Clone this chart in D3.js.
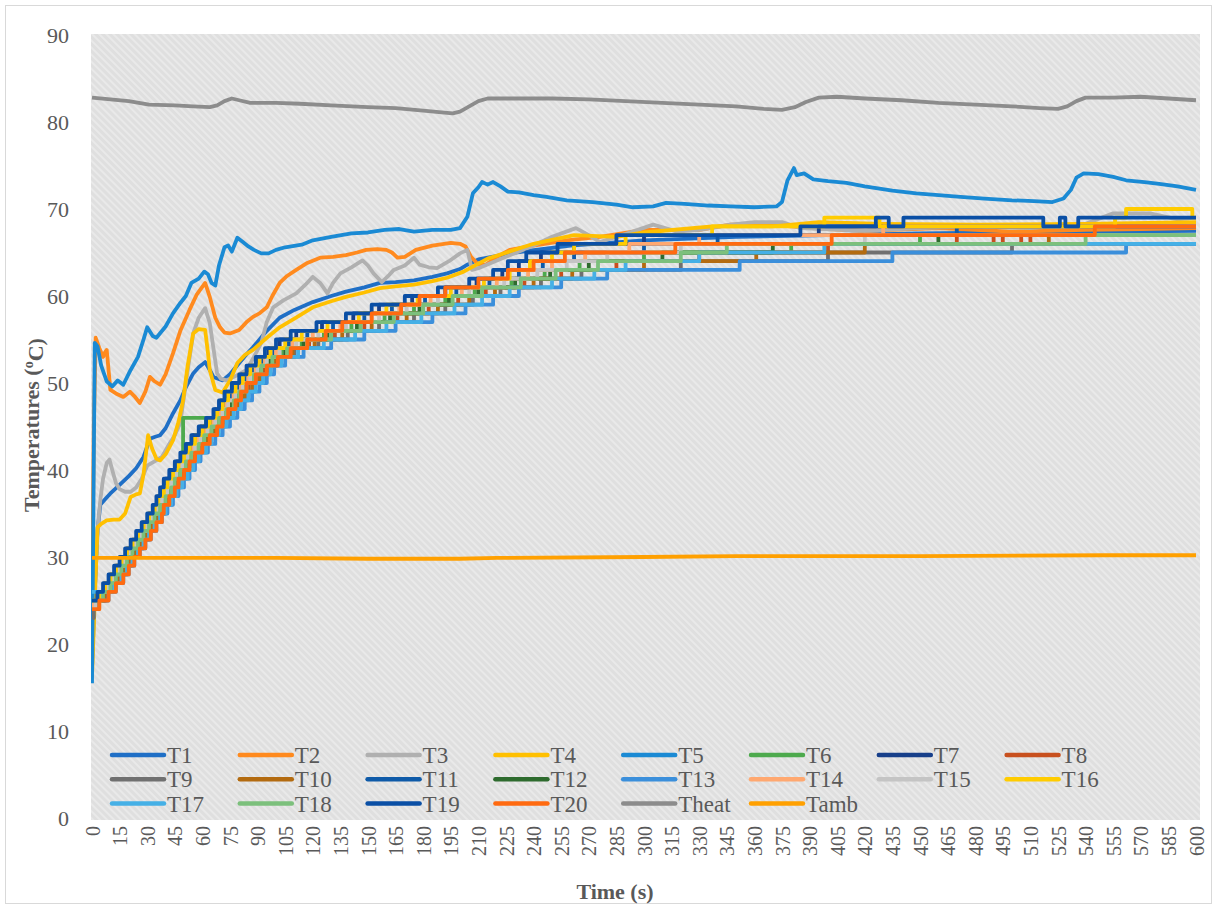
<!DOCTYPE html>
<html>
<head>
<meta charset="utf-8">
<script src="https://cdn.jsdelivr.net/npm/d3@7"></script>
<style>
  body { margin: 0; background: #fff; }
  svg { display: block; }
</style>
</head>
<body>
<svg id="chart" width="1217" height="909"></svg>
<script>
// ---- Axis ticks ----
const xTicks = d3.range(0, 601, 15);
const yTicks = [0, 10, 20, 30, 40, 50, 60, 70, 80, 90];

// ---- Series names and colours ----
const seriesNames = ["T1","T2","T3","T4","T5","T6","T7","T8","T9","T10",
  "T11","T12","T13","T14","T15","T16","T17","T18","T19","T20","Theat","Tamb"];
const seriesColors = ["#1f6fc6","#ff8a1e","#b0b0b0","#ffc000","#1a8ad4","#4daa4d",
  "#173f8a","#c8501e","#707070","#b36b10","#0e5aa8","#2e6b2e","#3b8fdb","#ffa870",
  "#c4c4c4","#ffcc00","#45b0e6","#7cc07c","#0a4fa5","#ff6a10","#8c8c8c","#ffa000"];
// sensors logged with 1 °C resolution are drawn as steps
const steppedSeries = ["T6","T7","T8","T9","T10","T11","T12","T13","T14","T15",
  "T16","T17","T18","T19","T20"];

// ---- Readings [time (s), temperature (°C)] ----
const T1 = [[0,17.2],[1.5,26],[3,33],[4.5,36],[7,36.6],[10,37.3],[15,38.3],[20,39.3],[24,40.2],[28,41.5],[31.5,43.6],[34,43.8],[37,44],[40,44.8],[44,46.5],[48,48],[51,49.5],[55,51.1],[58,51.8],[61.5,52.4],[64,51.5],[66,50.7],[71,50.3],[75,51],[80,52.3],[84,53.3],[87.5,54.1],[95,56],[102,57.5],[110,58.4],[120,59.3],[130,60],[138,60.5],[148,61],[156.5,61.5],[165,61.6],[175,61.8],[185,62.2],[193,62.6],[200,63.1],[204,63.6],[210,64.2],[230,65],[260,65.8],[300,66.4],[350,66.8],[400,67],[450,67.2],[500,67.3],[550,67.4],[600,67.5]];
const T2 = [[0,24],[1,45],[2,55.2],[4,54],[6,53],[7,53.5],[8,53.8],[10,49.2],[13,48.8],[17,48.4],[20.6,49],[23,48.5],[26,47.7],[29,49],[31.5,50.7],[34,50.2],[37,49.8],[40,51],[44,53.4],[48,56],[53,58.4],[57,60.2],[61.5,61.5],[64,59.9],[67,57.5],[69.6,56.4],[72,55.8],[75,55.7],[80,56.1],[84,57],[87.5,57.6],[91,58],[95,58.7],[98,60],[102,61.5],[106,62.3],[111,63],[117,63.8],[124,64.4],[131,64.5],[138,64.7],[144,65],[149,65.3],[155,65.4],[160,65.3],[163,65],[166,64.4],[170,64.5],[176,65.3],[185,65.8],[195,66.1],[200,66],[203,65.7],[206,64.5],[210,63.6],[214,63.6],[220,64.5],[227,65.3],[240,65.8],[258,66.4],[276,66.8],[300,67.6],[330,67.6],[347,68.2],[365,68.2],[380,68],[400,67.7],[420,67.5],[460,67.8],[500,67.4],[540,67.6],[570,67.7],[600,67.8]];
const T3 = [[0,23],[1.5,28],[3,33],[4.5,36.5],[6,39],[8,40.8],[9.5,41.2],[11,40],[13,38.5],[15,37.8],[18,37.5],[21,37.5],[24,38],[27,39],[30,40.5],[34,41],[38,41.5],[42,43],[45,44],[48,45.4],[51,50],[55,55.7],[58,57.5],[61.5,58.6],[64,56.9],[66,54],[68,51.1],[70,50.5],[73,50.3],[78,50.8],[84,51.5],[88,53],[92,54.6],[95,57],[98.5,58.7],[104,59.5],[111,60.3],[116,61.3],[120,62.2],[124,61.5],[128,60.3],[131,61.5],[135,62.6],[141,63.3],[147,64.1],[150,63.5],[153,62.6],[157.5,61.6],[161,62.3],[164,63],[170,63.5],[175,64.4],[178,63.6],[183,63.3],[187.5,63.2],[194,64],[200,64.9],[204,65.3],[206.5,63],[210,63.2],[225,64.5],[240,65.8],[250,66.8],[263,67.8],[270,67],[276,66.2],[291,67.2],[305,68.2],[318,67.4],[330,67.6],[347,68.2],[360,68.5],[375,68.5],[385,67.8],[420,67.5],[450,67.8],[480,68],[510,67.8],[540,68.3],[555,69.5],[575,69.5],[590,68.8],[600,69]];
const T4 = [[0,16.2],[1.5,25],[3,33.4],[5,33.8],[8,34.2],[12,34.3],[15,34.3],[18,35],[21,36.9],[24,37.2],[26,37.3],[28,39.5],[30.5,44],[32.6,42.5],[35,41.3],[37,41.1],[40,41.8],[44,43.4],[47,45.5],[49.5,48],[52,52],[55,55.7],[58,56.2],[61.5,56.1],[63,53.5],[64,51.5],[67,49.2],[71,48.9],[75,50.3],[79,52.3],[83,53.2],[87.5,53.8],[95,55.2],[102,56.4],[110,57.4],[120,58.7],[130,59.4],[138,59.9],[148,60.4],[156.5,60.9],[165,61.1],[175,61.3],[185,61.7],[193,62.1],[202,62.8],[215,64.3],[240,66],[262,67],[285,66.8],[300,67.3],[337,68],[370,68],[395,68.5],[430,68.3],[480,68.2],[540,68.3],[600,68.5]];
const T5 = [[0,15.5],[1.5,54.6],[3,54.2],[5,52],[8,50.2],[11,49.6],[14,50.3],[17,49.8],[21,51.5],[25,53],[28,55],[30,56.4],[33,55.4],[35,55.2],[40,56.5],[44,58],[48,59.2],[51,60],[54,61.5],[58,62],[61,62.8],[63,62.5],[65,61.5],[67,61.2],[69,63.5],[72,65.6],[74,65.8],[76,65.1],[79,66.7],[82,66.2],[85,65.7],[88,65.3],[92,64.9],[96,64.9],[100,65.3],[105,65.6],[114,65.9],[120,66.4],[130,66.8],[141,67.2],[150,67.3],[159,67.6],[167,67.7],[175,67.4],[185,67.6],[195,67.6],[200,67.8],[204,69.1],[207,71.8],[210,72.5],[212,73.1],[215,72.8],[218,73.1],[222,72.6],[226,72],[232,71.9],[240,71.6],[247,71.4],[258,71],[272,70.8],[285,70.5],[294,70.2],[305,70.3],[312,70.7],[322,70.6],[335,70.4],[347,70.3],[360,70.2],[372,70.3],[375,70.8],[378,73.3],[381.5,74.7],[383,73.9],[387,74.1],[392,73.4],[400,73.2],[410,73],[420,72.6],[435,72.1],[448,71.8],[460,71.6],[472,71.4],[485,71.2],[500,71],[512,70.9],[522,70.8],[528,71.2],[532,72.2],[535,73.6],[539,74.1],[547,74],[555,73.7],[562,73.3],[572,73.1],[580,72.9],[590,72.6],[600,72.2]];
const T6 = [[0,25],[6,26],[9,27],[13,28],[16,29],[19,30],[22,31],[25,32],[28,33],[31,34],[34,35],[37,36],[39,37],[42,38],[44,39],[47,40],[48,41],[49.5,46],[62,44],[64,45],[68,46],[72,47],[75,48],[79,49],[83,50],[87,51],[91,52],[96,53],[103,54],[114,55],[126,56],[141,57],[159,58],[175,59],[192,60],[208,61],[228,62],[246,63],[265,64],[300,65],[380,66],[450,67],[600,67]];
const T7 = [[0,25],[3,26],[7,27],[10,28],[13,29],[16,30],[19,31],[22,32],[25,33],[28,34],[31,35],[34,36],[36,37],[38,38],[40,39],[43,40],[46,41],[49,42],[52,43],[55,44],[59,45],[63,46],[67,47],[70,48],[73,49],[77,50],[81,51],[85,52],[90,53],[96,54],[102,55],[111,56],[125,57],[142,58],[156,59],[174,60],[192,61],[209,62],[223,63],[232,64],[244,65],[262,66],[300,67],[395,68],[600,68]];
const T8 = [[0,24],[2,25],[7,26],[10,27],[14,28],[17,29],[20,30],[23,31],[26,32],[29,33],[32,34],[35,35],[38,36],[40,37],[43,38],[46,39],[49,40],[52,41],[55,42],[58,43],[62,44],[66,45],[70,46],[74,47],[77,48],[81,49],[85,50],[89,51],[93,52],[99,53],[107,54],[118,55],[132,56],[148,57],[166,58],[183,59],[199,60],[214,61],[235,62],[255,63],[285,64],[330,65],[400,66],[470,67],[490,66],[495,67],[505,66],[510,67],[600,67]];
const T9 = [[0,23],[1,24],[3,25],[8,26],[11,27],[15,28],[19,29],[22,30],[25,31],[28,32],[31,33],[34,34],[37,35],[40,36],[43,37],[45,38],[48,39],[51,40],[54,41],[57,42],[60,43],[64,44],[68,45],[72,46],[76,47],[80,48],[84,49],[88,50],[92,51],[96,52],[101,53],[110,54],[123,55],[139,56],[156,57],[175,58],[192,59],[207,60],[222,61],[244,62],[266,63],[320,64],[400,65],[500,66],[600,66]];
const T10 = [[0,24],[3,25],[7,26],[11,27],[15,28],[18,29],[21,30],[24,31],[27,32],[30,33],[33,34],[36,35],[39,36],[41,37],[44,38],[47,39],[50,40],[53,41],[56,42],[59,43],[63,44],[67,45],[71,46],[75,47],[79,48],[83,49],[87,50],[91,51],[95,52],[100,53],[109,54],[121,55],[136,56],[152,57],[171,58],[188,59],[205,60],[219,61],[240,62],[261,63],[300,64],[361,65],[420,66],[520,67],[600,67]];
const T11 = [[0,25],[4,26],[8,27],[11,28],[14,29],[17,30],[20,31],[23,32],[26,33],[29,34],[32,35],[35,36],[37,37],[39,38],[41,39],[44,40],[47,41],[50,42],[54,43],[57,44],[61,45],[65,46],[69,47],[72,48],[75,49],[79,50],[83,51],[87,52],[93,53],[99,54],[107,55],[117,56],[131,57],[148,58],[163,59],[181,60],[198,61],[216,62],[232,63],[245,64],[262,65],[300,66],[340,67],[470,68],[600,68]];
const T12 = [[0,24],[2,25],[6,26],[10,27],[13,28],[16,29],[19,30],[22,31],[25,32],[28,33],[31,34],[34,35],[37,36],[40,37],[42,38],[45,39],[48,40],[51,41],[54,42],[57,43],[61,44],[65,45],[69,46],[73,47],[76,48],[80,49],[84,50],[88,51],[92,52],[97,53],[105,54],[115,55],[128,56],[144,57],[162,58],[178,59],[194,60],[210,61],[230,62],[249,63],[270,64],[310,65],[370,66],[460,67],[600,67]];
const T13 = [[0,25],[9,26],[13,27],[17,28],[20,29],[23,30],[26,31],[29,32],[32,33],[35,34],[38,35],[41,36],[44,37],[47,38],[50,39],[53,40],[56,41],[59,42],[63,43],[67,44],[71,45],[75,46],[79,47],[83,48],[87,49],[91,50],[95,51],[99,52],[105,53],[115,54],[130,55],[148,56],[165,57],[185,58],[203,59],[218,60],[232,61],[255,62],[280,63],[352,64],[435,65],[562,66],[600,66]];
const T14 = [[0,24],[1,25],[5,26],[8,27],[11,28],[14,29],[17,30],[20,31],[23,32],[26,33],[29,34],[32,35],[35,36],[38,37],[40,38],[42,39],[45,40],[48,41],[51,42],[55,43],[58,44],[62,45],[66,46],[70,47],[73,48],[77,49],[81,50],[85,51],[89,52],[94,53],[100,54],[109,55],[120,56],[135,57],[152,58],[167,59],[184,60],[201,61],[220,62],[237,63],[250,64],[268,65],[292,66],[330,67],[430,68],[600,68]];
const T15 = [[0,24],[2,25],[5,26],[9,27],[12,28],[15,29],[18,30],[21,31],[24,32],[27,33],[30,34],[33,35],[36,36],[38,37],[41,38],[43,39],[46,40],[49,41],[52,42],[56,43],[59,44],[63,45],[67,46],[71,47],[74,48],[78,49],[82,50],[86,51],[90,52],[95,53],[102,54],[111,55],[123,56],[138,57],[156,58],[171,59],[188,60],[205,61],[224,62],[242,63],[258,64],[280,65],[320,66],[420,67],[600,67]];
const T16 = [[0,25],[4,26],[7,27],[10,28],[13,29],[16,30],[19,31],[22,32],[25,33],[28,34],[31,35],[34,36],[36,37],[39,38],[41,39],[44,40],[47,41],[50,42],[53,43],[56,44],[60,45],[64,46],[68,47],[71,48],[74,49],[78,50],[82,51],[86,52],[91,53],[97,54],[105,55],[114,56],[128,57],[145,58],[160,59],[177,60],[195,61],[213,62],[227,63],[238,64],[250,65],[262,66],[290,67],[337,68],[398,69],[428,68],[556,69],[562,70],[598,69],[600,69]];
const T17 = [[0,26],[12,27],[16,28],[19,29],[22,30],[25,31],[28,32],[31,33],[34,34],[37,35],[40,36],[43,37],[46,38],[49,39],[52,40],[55,41],[58,42],[62,43],[65,44],[69,45],[73,46],[77,47],[81,48],[85,49],[89,50],[93,51],[97,52],[103,53],[112,54],[126,55],[143,56],[160,57],[179,58],[197,59],[212,60],[227,61],[250,62],[273,63],[290,64],[330,65],[398,66],[600,66]];
const T18 = [[0,25],[6,26],[10,27],[13,28],[16,29],[19,30],[22,31],[25,32],[28,33],[31,34],[34,35],[37,36],[40,37],[43,38],[45,39],[48,40],[51,41],[54,42],[58,43],[61,44],[65,45],[69,46],[73,47],[77,48],[80,49],[84,50],[88,51],[92,52],[98,53],[106,54],[117,55],[130,56],[146,57],[164,58],[180,59],[196,60],[212,61],[233,62],[252,63],[275,64],[320,65],[345,66],[540,67],[600,67]];
const T19 = [[0,25],[3,26],[6,27],[9,28],[12,29],[15,30],[18,31],[21,32],[24,33],[27,34],[30,35],[33,36],[35,37],[37,38],[39,39],[42,40],[45,41],[48,42],[51,43],[54,44],[58,45],[62,46],[66,47],[69,48],[72,49],[76,50],[80,51],[84,52],[89,53],[94,54],[100,55],[108,56],[122,57],[138,58],[152,59],[170,60],[188,61],[205,62],[218,63],[226,64],[236,65],[253,66],[285,67],[385,68],[426,69],[433,68],[441,69],[517,68],[526,69],[529,68],[536,69],[600,69]];
const T20 = [[0,24],[4,25],[9,26],[13,27],[17,28],[20,29],[23,30],[26,31],[29,32],[32,33],[35,34],[38,35],[39,36],[42,37],[45,38],[47,39],[50,40],[53,41],[56,42],[60,43],[64,44],[68,45],[71,46],[74,47],[78,48],[81,49],[84,50],[89,51],[95,52],[101,53],[108,54],[117,55],[127,56],[136,57],[152,58],[168,59],[178,60],[192,61],[210,62],[226,63],[240,64],[257,65],[317,66],[402,67],[545,68],[600,68]];
const Theat = [[0,82.8],[10,82.6],[20,82.4],[31,82],[45,81.9],[55,81.8],[64,81.7],[68,81.9],[72,82.4],[76,82.7],[80,82.5],[86,82.2],[100,82.2],[113,82.1],[130,81.9],[150,81.7],[165,81.6],[180,81.3],[190,81.1],[196,81],[200,81.2],[205,81.8],[210,82.4],[215,82.7],[230,82.7],[250,82.7],[270,82.6],[290,82.4],[310,82.2],[330,82],[350,81.8],[365,81.5],[375,81.4],[382,81.7],[388,82.3],[395,82.8],[405,82.9],[420,82.7],[440,82.5],[460,82.2],[480,82],[500,81.8],[515,81.6],[525,81.5],[530,81.8],[535,82.4],[540,82.8],[555,82.8],[570,82.9],[585,82.7],[600,82.5]];
const Tamb = [[0,29.9],[50,29.9],[100,29.9],[150,29.8],[200,29.8],[220,29.9],[300,30],[350,30.1],[450,30.1],[550,30.2],[600,30.2]];

const seriesData = [T1,T2,T3,T4,T5,T6,T7,T8,T9,T10,T11,T12,T13,T14,T15,T16,T17,T18,T19,T20,Theat,Tamb];

// ---- Layout ----
const W = 1217, H = 909;
const plot = { left: 91, top: 34, right: 1200, bottom: 820 };
const x = d3.scaleLinear().domain([0, 600]).range([92, 1196]);
const y = d3.scaleLinear().domain([0, 90]).range([818, 35]);
const textColor = "#595959";
const serif = "'Liberation Serif', 'Times New Roman', serif";

const svg = d3.select("#chart");
const defs = svg.append("defs");

// diagonal textured fill of the plot area
const pat = defs.append("pattern")
  .attr("id", "texture").attr("patternUnits", "userSpaceOnUse")
  .attr("width", 5).attr("height", 5)
  .attr("patternTransform", "rotate(-45)");
pat.append("rect").attr("width", 5).attr("height", 5).attr("fill", "#dfdfdf");
pat.append("rect").attr("x", 0).attr("width", 2).attr("height", 5).attr("fill", "#e9e9e9");

defs.append("clipPath").attr("id", "plotClip")
  .append("rect")
  .attr("x", plot.left).attr("y", plot.top)
  .attr("width", plot.right - plot.left).attr("height", plot.bottom - plot.top);

// chart frame
svg.append("rect")
  .attr("x", 5.5).attr("y", 5.5).attr("width", W - 11).attr("height", H - 11)
  .attr("fill", "#fff").attr("stroke", "#d9d9d9").attr("stroke-width", 1);

svg.append("rect")
  .attr("x", plot.left).attr("y", plot.top)
  .attr("width", plot.right - plot.left).attr("height", plot.bottom - plot.top)
  .attr("fill", "url(#texture)");

// ---- Axes ----
const yAxis = svg.append("g")
  .attr("transform", "translate(92,0)")
  .call(d3.axisLeft(y).tickValues(yTicks).tickSize(0).tickPadding(23));
yAxis.select(".domain").remove();
yAxis.selectAll("text")
  .attr("fill", textColor).style("font-family", serif).style("font-size", "22px");

const xAxis = svg.append("g")
  .attr("transform", "translate(0,818)")
  .call(d3.axisBottom(x).tickValues(xTicks).tickSize(0));
xAxis.select(".domain").remove();
xAxis.selectAll("text")
  .attr("transform", "rotate(-90)")
  .attr("x", -8).attr("y", 0).attr("dy", "0.35em")
  .style("text-anchor", "end")
  .attr("fill", textColor).style("font-family", serif).style("font-size", "20px");

svg.append("text")
  .attr("x", 615).attr("y", 899)
  .attr("text-anchor", "middle")
  .attr("fill", textColor).style("font-family", serif)
  .style("font-size", "22px").style("font-weight", "bold")
  .text("Time (s)");

const yTitle = svg.append("text")
  .attr("transform", "translate(39,425) rotate(-90)")
  .attr("text-anchor", "middle")
  .attr("fill", textColor).style("font-family", serif)
  .style("font-size", "22px").style("font-weight", "bold");
yTitle.append("tspan").text("Temperatures (");
yTitle.append("tspan").attr("dy", "-0.45em").style("font-size", "14px").text("o");
yTitle.append("tspan").attr("dy", "0.45em").text("C)");

// ---- Series ----
const smoothLine = d3.line().x(d => x(d[0])).y(d => y(d[1]));
const stepLine = d3.line().x(d => x(d[0])).y(d => y(d[1])).curve(d3.curveStepAfter);

const lines = svg.append("g").attr("clip-path", "url(#plotClip)");
seriesNames.forEach((name, i) => {
  const gen = steppedSeries.includes(name) ? stepLine : smoothLine;
  lines.append("path")
    .datum(seriesData[i])
    .attr("fill", "none")
    .attr("stroke", seriesColors[i])
    .attr("stroke-width", 3.8)
    .attr("stroke-linejoin", "round")
    .attr("d", gen);
});

// ---- Legend (inside the plot, 8 columns) ----
const legend = svg.append("g");
seriesNames.forEach((name, i) => {
  const col = i % 8, row = Math.floor(i / 8);
  const lx = 112 + col * 127.8, ly = 755 + row * 24.3;
  legend.append("line")
    .attr("x1", lx).attr("x2", lx + 52).attr("y1", ly).attr("y2", ly)
    .attr("stroke", seriesColors[i]).attr("stroke-width", 4.5)
    .attr("stroke-linecap", "round");
  legend.append("text")
    .attr("x", lx + 55).attr("y", ly).attr("dy", "0.35em")
    .attr("fill", textColor).style("font-family", serif).style("font-size", "23px")
    .text(name);
});
</script>
</body>
</html>
